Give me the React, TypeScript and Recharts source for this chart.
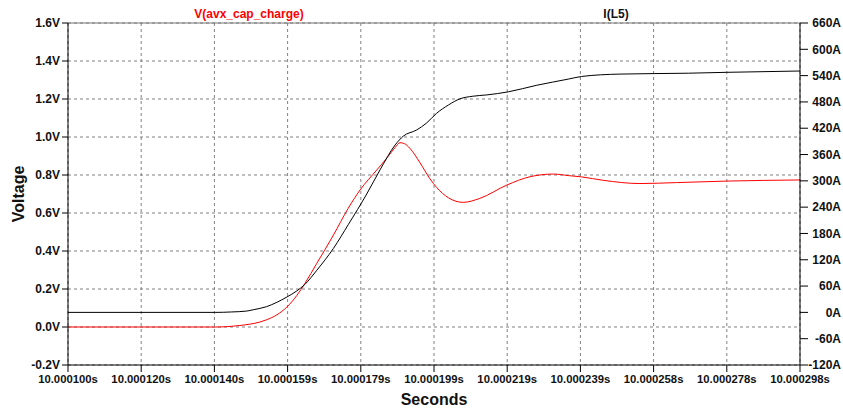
import React from 'react';
import { LineChart, Line, XAxis, YAxis, CartesianGrid, ReferenceLine } from 'recharts';

// time in microseconds after 10 s
const vTime = [100, 140, 146.5, 149.2, 151.9, 153.7, 156.5, 159.2, 161.9, 164.1, 167.3, 171.8, 175.8, 179, 183.5, 186.2, 188.5, 189.8, 191, 192.5, 195.2, 197.9, 199.7, 202.9, 206.9, 211.4, 218.7, 225, 231.3, 235.3, 238.9, 244.8, 254.7, 264.6, 278.2, 298];
const vValues = [0, 0, 0.008, 0.015, 0.026, 0.038, 0.064, 0.105, 0.166, 0.23, 0.335, 0.484, 0.625, 0.721, 0.826, 0.888, 0.945, 0.97, 0.965, 0.94, 0.865, 0.78, 0.735, 0.68, 0.656, 0.677, 0.747, 0.791, 0.805, 0.797, 0.79, 0.772, 0.755, 0.76, 0.768, 0.774];

const iTime = [100, 140, 144.3, 148.3, 150.1, 153.7, 156.5, 159.2, 161.9, 164.1, 167.3, 171.8, 175.8, 180.8, 184.4, 188.5, 190.7, 194.3, 197, 199.7, 202.9, 206, 209.5, 213.3, 219.1, 226.8, 235.3, 238.9, 249.3, 267.8, 278.2, 298];
const iValues = [0, 0, 1, 3, 6, 13, 23, 35, 49, 64, 96, 146, 200, 270, 325, 382, 402, 416, 432, 454, 473, 487, 493, 496, 503, 518, 532, 538, 543.5, 545.5, 547.5, 550.5];

const timeTicks = [100, 119.8, 139.6, 159.4, 179.2, 199, 218.8, 238.6, 258.4, 278.2, 298];
const timeLabels = ['10.000100s', '10.000120s', '10.000140s', '10.000159s', '10.000179s', '10.000199s', '10.000219s', '10.000239s', '10.000258s', '10.000278s', '10.000298s'];
const voltTicks = [-0.2, 0, 0.2, 0.4, 0.6, 0.8, 1.0, 1.2, 1.4, 1.6];
const ampTicks = [-120, -60, 0, 60, 120, 180, 240, 300, 360, 420, 480, 540, 600, 660];

const vData = vTime.map((t, i) => ({ t, v: vValues[i] }));
const iData = iTime.map((t, i) => ({ t, a: iValues[i] }));

const FONT = '"Liberation Sans", Arial, sans-serif';
const tickStyle = { fill: '#111', fontSize: 12, fontWeight: 700, fontFamily: FONT };
const xTickStyle = { ...tickStyle, fontSize: 11.3 };

const RightTick = (props: any) => {
  const { x, y, payload } = props;
  return (
    <text x={x + 31} y={y} dy="0.355em" textAnchor="end" {...tickStyle}>
      {payload.value}A
    </text>
  );
};

const App = () => {
  return (
    <div style={{ position: 'absolute', left: 0, top: 0, width: 843, height: 408, background: '#fff' }}>
      <LineChart width={843} height={408} margin={{ top: 23, right: 0, bottom: 0, left: 0 }}>
        <CartesianGrid yAxisId="v" stroke="#808080" strokeDasharray="3 3" />
        <XAxis
          dataKey="t"
          type="number"
          domain={[100, 298]}
          ticks={timeTicks}
          allowDataOverflow
          tickFormatter={(val: number) => timeLabels[timeTicks.indexOf(val)] ?? ''}
          height={43}
          tickSize={7}
          tickMargin={3}
          tick={xTickStyle}
          stroke="#000"
          interval={0}
        />
        <YAxis
          yAxisId="v"
          domain={[-0.2, 1.6]}
          ticks={voltTicks}
          width={68}
          tickSize={6}
          tickMargin={2}
          tick={tickStyle}
          tickFormatter={(val: number) => val.toFixed(1) + 'V'}
          stroke="#000"
          interval={0}
        />
        <YAxis
          yAxisId="a"
          orientation="right"
          domain={[-120, 660]}
          ticks={ampTicks}
          width={43}
          tickSize={8}
          tickMargin={2}
          tick={<RightTick />}
          stroke="#000"
          interval={0}
        />
        <ReferenceLine yAxisId="v" y={1.6} stroke="#777" strokeWidth={1} />
        <Line
          yAxisId="v"
          data={vData}
          dataKey="v"
          type="monotone"
          stroke="#ff0000"
          strokeWidth={1}
          dot={false}
          isAnimationActive={false}
        />
        <Line
          yAxisId="a"
          data={iData}
          dataKey="a"
          type="monotone"
          stroke="#000"
          strokeWidth={1}
          dot={false}
          isAnimationActive={false}
        />
      </LineChart>
      <svg width={843} height={408} style={{ position: 'absolute', left: 0, top: 0, pointerEvents: 'none' }}>
        <text x={249} y={18} textAnchor="middle" fill="#ff0000" fontSize={12} fontWeight={700} fontFamily={FONT}>
          V(avx_cap_charge)
        </text>
        <text x={616} y={18} textAnchor="middle" fill="#111" fontSize={12} fontWeight={700} fontFamily={FONT}>
          I(L5)
        </text>
        <text x={24} y={194} transform="rotate(-90 24 194)" textAnchor="middle" fill="#111" fontSize={16} fontWeight={700} fontFamily={FONT}>
          Voltage
        </text>
        <text x={434} y={405} textAnchor="middle" fill="#111" fontSize={16} fontWeight={700} fontFamily={FONT}>
          Seconds
        </text>
      </svg>
    </div>
  );
};

export default App;
